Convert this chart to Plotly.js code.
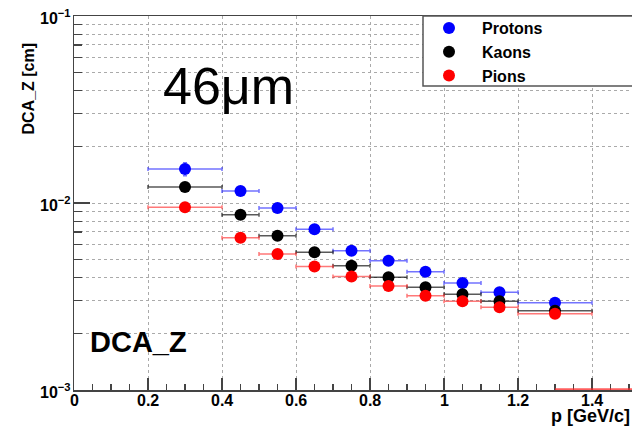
<!DOCTYPE html>
<html>
<head>
<meta charset="utf-8">
<script src="https://cdn.plot.ly/plotly-3.0.1.min.js"></script>
<style>html,body{margin:0;padding:0;background:#fff;}#chart{width:632px;height:429px;}</style>
</head>
<body>
<div id="chart"></div>
<script>
// ---- data ----
const pCenters = [0.3, 0.45, 0.55, 0.65, 0.75, 0.85, 0.95, 1.05, 1.15, 1.3];
const pHalfWidth = [0.1, 0.05, 0.05, 0.05, 0.05, 0.05, 0.05, 0.05, 0.05, 0.1];

const protons = [0.0152, 0.01159, 0.00939, 0.00723, 0.00556, 0.00491, 0.00429, 0.00373, 0.00333, 0.00293];
const protonsErr = [0.0012, 0.0004, 0.0003, 0.0002, 0.00015, 0.00012, 0.0001, 0.00009, 0.00008, 0.00007];

const kaons = [0.01219, 0.00866, 0.00668, 0.00545, 0.00462, 0.00401, 0.00354, 0.00325, 0.00298, 0.00265];
const kaonsErr = [0.0004, 0.0002, 0.00015, 0.00012, 0.0001, 0.00008, 0.00007, 0.00006, 0.00005, 0.00005];

const pions = [0.00948, 0.00652, 0.00533, 0.00458, 0.00404, 0.00360, 0.00319, 0.00298, 0.00277, 0.00256];
const pionsErr = [0.0002, 0.00012, 0.0001, 0.00008, 0.00007, 0.00006, 0.00005, 0.00005, 0.00004, 0.00004];

// pion bin with (almost) empty content, drawn at the frame bottom
const pionsEmptyX = [1.5];
const pionsEmptyHalf = [0.2];
const pionsEmptyY = [0.001008];

const seriesNames = ['Protons', 'Kaons', 'Pions'];
const xTickVals = [0, 0.2, 0.4, 0.6, 0.8, 1, 1.2, 1.4];
const xTickText = ['0', '0.2', '0.4', '0.6', '0.8', '1', '1.2', '1.4'];
const yTickVals = [0.001, 0.01, 0.1];
const yTickText = ['10<sup>\u22123</sup>', '10<sup>\u22122</sup>', '10<sup>\u22121</sup>'];

const FONT = 'Liberation Sans, Arial, Helvetica, sans-serif';

function mk(name, y, err, color, barColor) {
  return {
    type: 'scatter', mode: 'markers', name: name,
    x: pCenters, y: y,
    marker: {color: color, size: 12, symbol: 'circle'},
    error_x: {type: 'data', array: pHalfWidth, color: barColor, thickness: 1.5, width: 2},
    error_y: {type: 'data', array: err, color: barColor, thickness: 1.5, width: 2},
    cliponaxis: false
  };
}

const traces = [
  mk(seriesNames[0], protons, protonsErr, '#0000ff', 'rgba(40,40,255,0.65)'),
  mk(seriesNames[1], kaons, kaonsErr, '#000000', 'rgba(0,0,0,0.65)'),
  mk(seriesNames[2], pions, pionsErr, '#ff0000', 'rgba(255,30,30,0.6)'),
  {
    type: 'scatter', mode: 'markers', name: 'Pions (empty)', showlegend: false,
    x: pionsEmptyX, y: pionsEmptyY,
    marker: {color: 'rgba(255,0,0,0)', size: 2},
    error_x: {type: 'data', array: pionsEmptyHalf, color: 'rgba(255,40,40,0.75)', thickness: 2, width: 0},
    cliponaxis: false
  }
];

const L = 74, R = 0, T = 16, B = 39, W = 632, H = 429;
const pw = W - L - R, ph = H - T - B;
const px = v => (v - L) / pw;
const py = v => (H - B - v) / ph;
const tickFont = {family: FONT, size: 16, weight: 'bold', color: '#000'};

// tick labels placed through the axes' own scales (ROOT puts them tight to the frame)
const tickLabelAnns = [];
xTickVals.forEach((v, i) => tickLabelAnns.push({
  text: xTickText[i], xref: 'x', x: v, yref: 'paper', y: 0, yshift: -10,
  xanchor: 'center', yanchor: 'middle', showarrow: false, font: tickFont
}));
yTickVals.forEach((v, i) => tickLabelAnns.push({
  text: yTickText[i], yref: 'y', y: Math.log10(v), xref: 'paper', x: 0, xshift: -1, yshift: -1,
  xanchor: 'right', yanchor: 'middle', showarrow: false, font: tickFont
}));

const layout = {
  width: W, height: H,
  margin: {l: L, r: R, t: T, b: B, pad: 0},
  paper_bgcolor: '#ffffff', plot_bgcolor: '#ffffff',
  showlegend: true,
  font: {family: FONT, color: '#000'},
  xaxis: {
    range: [0, (W - L) / 370],
    tickvals: xTickVals, ticktext: xTickText, showticklabels: false,
    ticks: 'inside', ticklen: 12, tickwidth: 1.5, tickcolor: '#444',
    showline: true, linecolor: '#444', linewidth: 1.5, mirror: true,
    showgrid: true, gridcolor: '#aaa', griddash: 'dot', gridwidth: 1,
    zeroline: false, layer: 'below traces',
    minor: {dtick: 0.05, tick0: 0, ticks: 'inside', ticklen: 6, tickwidth: 1.2, tickcolor: '#444', showgrid: false}
  },
  yaxis: {
    type: 'log', range: [-3, -1],
    tickvals: yTickVals, showticklabels: false,
    ticks: 'inside', ticklen: 16, tickwidth: 1.5, tickcolor: '#444',
    showline: true, linecolor: '#444', linewidth: 1.5, mirror: false,
    showgrid: true, gridcolor: '#aaa', griddash: 'dot', gridwidth: 1,
    zeroline: false, layer: 'below traces',
    minor: {dtick: 'D1', ticks: 'inside', ticklen: 8, tickwidth: 1.2, tickcolor: '#444',
            showgrid: true, gridcolor: '#aaa', griddash: 'dot', gridwidth: 1}
  },
  legend: {
    x: px(423), xanchor: 'left', y: 1 + 5 / ph, yanchor: 'top',
    bgcolor: 'rgba(0,0,0,0)', borderwidth: 0,
    font: {family: FONT, size: 16, weight: 'bold', color: '#000'},
    itemwidth: 56, indentation: -7,
    tracegroupgap: 0
  },
  shapes: [
    {type: 'rect', xref: 'paper', yref: 'paper', x0: px(423), x1: 1.05, y0: py(86), y1: 1,
     line: {color: '#555', width: 1.5}, fillcolor: '#ffffff', layer: 'above'}
  ],
  annotations: tickLabelAnns.concat([
    {text: '46\u03bcm', xref: 'paper', yref: 'paper', x: px(228.5), y: py(86),
     xanchor: 'center', yanchor: 'middle', showarrow: false,
     font: {family: FONT, size: 52, color: '#000'}},
    {text: 'DCA_Z', xref: 'paper', yref: 'paper', x: px(88), y: py(342),
     xanchor: 'left', yanchor: 'middle', showarrow: false,
     font: {family: FONT, size: 29, weight: 'bold', color: '#000'}},
    {text: '<b>DCA_Z [cm]</b>', xref: 'paper', yref: 'paper', x: px(28), y: py(88.5),
     xanchor: 'center', yanchor: 'middle', textangle: -90, showarrow: false,
     font: {family: FONT, size: 16, weight: 'bold', color: '#000'}},
    {text: '<b>p [GeV/c]</b>', xref: 'paper', yref: 'paper', x: 1, y: py(416),
     xanchor: 'right', yanchor: 'middle', showarrow: false,
     font: {family: FONT, size: 18, weight: 'bold', color: '#000'}}
  ])
};

Plotly.newPlot('chart', traces, layout, {displayModeBar: false, staticPlot: true});
</script>
</body>
</html>
